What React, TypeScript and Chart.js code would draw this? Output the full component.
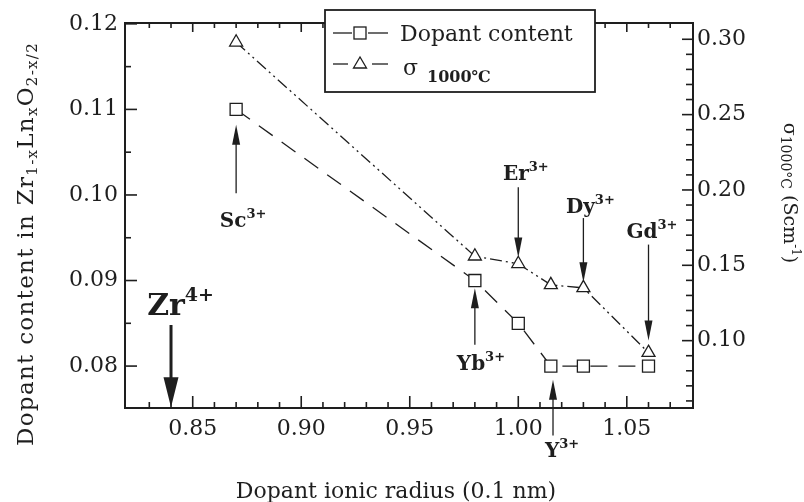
import React, { useEffect, useRef } from 'react';
import { Chart, registerables } from 'chart.js';

Chart.register(...registerables);

const INK = '#1e1e1e';
const FONT = "'DejaVu Serif', serif";

// ---- data ----
const IONIC_RADIUS = [0.87, 0.98, 1.0, 1.015, 1.03, 1.06];
const DOPANT_CONTENT = [0.11, 0.09, 0.085, 0.08, 0.08, 0.08];
const SIGMA_1000 = [0.298, 0.156, 0.151, 0.137, 0.135, 0.092];

// ---- axis ticks ----
const X_MAJOR = [0.85, 0.9, 0.95, 1.0, 1.05];
const X_MINOR = [0.83, 0.84, 0.86, 0.87, 0.88, 0.89, 0.91, 0.92, 0.93, 0.94, 0.96, 0.97, 0.98, 0.99, 1.01, 1.02, 1.03, 1.04, 1.06, 1.07];
const Y_LEFT_MAJOR = [0.08, 0.09, 0.1, 0.11, 0.12];
const Y_LEFT_MINOR = [0.085, 0.095, 0.105, 0.115];
const Y_RIGHT_MAJOR = [0.1, 0.15, 0.2, 0.25, 0.3];
const Y_RIGHT_MINOR = [0.06, 0.07, 0.08, 0.09, 0.11, 0.12, 0.13, 0.14, 0.16, 0.17, 0.18, 0.19, 0.21, 0.22, 0.23, 0.24, 0.26, 0.27, 0.28, 0.29];

// ---- ion annotations (x in radius units, y in left-axis units) ----
const ION_LABELS = ['Sc', 'Yb', 'Er', 'Y', 'Dy', 'Gd', 'Zr'];
const ION_CHARGES = ['3+', '3+', '3+', '3+', '3+', '3+', '4+'];
const ION_ARROW_X = [0.87, 0.98, 1.0, 1.016, 1.03, 1.06, 0.84];
const ION_ARROW_TAIL = [0.1002, 0.0825, 0.1009, 0.0719, 0.0973, 0.0942, 0.0848];
const ION_ARROW_TIP = [0.1082, 0.0891, 0.0927, 0.0784, 0.0898, 0.083, 0.0752];
const ION_LABEL_X = [0.8732, 0.9828, 1.0035, 1.0202, 1.0332, 1.0616, 0.8444];
const ION_LABEL_Y = [0.0963, 0.0795, 0.1018, 0.0694, 0.0979, 0.095, 0.086];

type Seg = { t: string; size: number; bold?: boolean; dy?: number };

function segFont(s: Seg) {
  return `${s.bold ? 'bold ' : ''}${s.size}px ${FONT}`;
}

function drawRich(ctx: CanvasRenderingContext2D, segs: Seg[], x: number, y: number, align: 'left' | 'center', spacing = 0) {
  const c: any = ctx;
  const prev = c.letterSpacing;
  c.letterSpacing = `${spacing}px`;
  let total = 0;
  segs.forEach((s) => {
    ctx.font = segFont(s);
    total += ctx.measureText(s.t).width;
  });
  let cx = align === 'center' ? x - total / 2 : x;
  ctx.textAlign = 'left';
  ctx.textBaseline = 'alphabetic';
  segs.forEach((s) => {
    ctx.font = segFont(s);
    ctx.fillText(s.t, cx, y + (s.dy || 0));
    cx += ctx.measureText(s.t).width;
  });
  c.letterSpacing = prev || '0px';
}

function drawArrow(ctx: CanvasRenderingContext2D, x: number, yTail: number, yTip: number, lw: number, headW: number, headL: number) {
  const dir = Math.sign(yTip - yTail);
  ctx.lineWidth = lw;
  ctx.beginPath();
  ctx.moveTo(x, yTail);
  ctx.lineTo(x, yTip - dir * headL * 0.7);
  ctx.stroke();
  ctx.beginPath();
  ctx.moveTo(x, yTip);
  ctx.lineTo(x - headW / 2, yTip - dir * headL);
  ctx.lineTo(x + headW / 2, yTip - dir * headL);
  ctx.closePath();
  ctx.fill();
}

const decorPlugin = {
  id: 'decor',
  beforeDraw(chart: any) {
    const ctx = chart.ctx as CanvasRenderingContext2D;
    ctx.save();
    ctx.fillStyle = '#fff';
    ctx.fillRect(0, 0, chart.width, chart.height);
    ctx.restore();
  },
  afterDraw(chart: any) {
    const ctx = chart.ctx as CanvasRenderingContext2D;
    const { left, right, top, bottom } = chart.chartArea;
    const xs = chart.scales.x;
    const yl = chart.scales.y;
    const yr = chart.scales.y2;
    ctx.save();
    ctx.strokeStyle = INK;
    ctx.fillStyle = INK;
    ctx.lineCap = 'butt';

    // frame
    ctx.lineWidth = 2;
    ctx.strokeRect(left, top, right - left, bottom - top);

    // ticks (inward)
    ctx.lineWidth = 1.6;
    const seg = (x1: number, y1: number, x2: number, y2: number) => {
      ctx.beginPath();
      ctx.moveTo(x1, y1);
      ctx.lineTo(x2, y2);
      ctx.stroke();
    };
    X_MAJOR.forEach((v) => {
      const p = xs.getPixelForValue(v);
      seg(p, bottom, p, bottom - 12);
      seg(p, top, p, top + 9);
    });
    X_MINOR.forEach((v) => {
      const p = xs.getPixelForValue(v);
      seg(p, bottom, p, bottom - 6);
      seg(p, top, p, top + 5);
    });
    Y_LEFT_MAJOR.forEach((v) => {
      const p = yl.getPixelForValue(v);
      seg(left, p, left + 12, p);
    });
    Y_LEFT_MINOR.forEach((v) => {
      const p = yl.getPixelForValue(v);
      seg(left, p, left + 6, p);
    });
    Y_RIGHT_MAJOR.forEach((v) => {
      const p = yr.getPixelForValue(v);
      seg(right, p, right - 11, p);
    });
    Y_RIGHT_MINOR.forEach((v) => {
      const p = yr.getPixelForValue(v);
      seg(right, p, right - 7, p);
    });

    // ion annotations
    ION_LABELS.forEach((lab, i) => {
      const big = lab === 'Zr';
      const ax = xs.getPixelForValue(ION_ARROW_X[i]);
      const t0 = yl.getPixelForValue(ION_ARROW_TAIL[i]);
      const t1 = yl.getPixelForValue(ION_ARROW_TIP[i]);
      if (big) drawArrow(ctx, ax, t0, t1, 3, 15, 30);
      else drawArrow(ctx, ax, t0, t1, 1.3, 8, 20);
      const lx = xs.getPixelForValue(ION_LABEL_X[i]);
      const ly = yl.getPixelForValue(ION_LABEL_Y[i]);
      const main = big ? 30 : 20;
      const sup = big ? 19 : 13;
      drawRich(ctx, [
        { t: lab, size: main, bold: true },
        { t: ION_CHARGES[i], size: sup, bold: true, dy: -main * 0.45 },
      ], lx, ly, 'center');
    });

    // legend box
    const bx = 325, by = 10, bw = 270, bh = 82;
    ctx.fillStyle = '#fff';
    ctx.fillRect(bx, by, bw, bh);
    ctx.lineWidth = 1.8;
    ctx.strokeRect(bx, by, bw, bh);
    ctx.fillStyle = INK;
    ctx.lineWidth = 1.3;
    // row 1: dopant content
    seg(333, 33, 352, 33);
    seg(368, 33, 388, 33);
    ctx.fillStyle = '#fff';
    ctx.fillRect(354, 27, 12, 12);
    ctx.strokeRect(354, 27, 12, 12);
    ctx.fillStyle = INK;
    drawRich(ctx, [{ t: 'Dopant content', size: 22 }], 400, 41, 'left');
    // row 2: sigma
    seg(333, 64, 348, 64);
    seg(372, 64, 388, 64);
    ctx.beginPath();
    ctx.moveTo(360, 57);
    ctx.lineTo(353.5, 68);
    ctx.lineTo(366.5, 68);
    ctx.closePath();
    ctx.fillStyle = '#fff';
    ctx.fill();
    ctx.stroke();
    ctx.fillStyle = INK;
    drawRich(ctx, [{ t: 'σ', size: 22 }], 403, 75, 'left');
    drawRich(ctx, [{ t: '1000℃', size: 16, bold: true }], 427, 82, 'left');

    // axis titles
    drawRich(ctx, [{ t: 'Dopant ionic radius (0.1 nm)', size: 22 }], 396, 498, 'center');

    ctx.save();
    ctx.translate(33, 244);
    ctx.rotate(-Math.PI / 2);
    drawRich(ctx, [
      { t: 'Dopant content in Zr', size: 23 },
      { t: '1-x', size: 15, dy: 4 },
      { t: 'Ln', size: 23 },
      { t: 'x', size: 15, dy: 4 },
      { t: 'O', size: 23 },
      { t: '2-x/2', size: 15, dy: 4 },
    ], 0, 0, 'center', 1.3);
    ctx.restore();

    ctx.save();
    ctx.translate(784, 193);
    ctx.rotate(Math.PI / 2);
    drawRich(ctx, [
      { t: 'σ', size: 19 },
      { t: '1000°C', size: 14, dy: 3 },
      { t: ' (Scm', size: 19 },
      { t: '-1', size: 12, dy: -8 },
      { t: ')', size: 19 },
    ], 0, 0, 'center');
    ctx.restore();

    ctx.restore();
  },
};

export default function App() {
  const ref = useRef<HTMLCanvasElement | null>(null);
  useEffect(() => {
    if (!ref.current) return;
    const tickFont = { family: FONT, size: 22 };
    const chart = new Chart(ref.current, {
      type: 'scatter',
      data: {
        datasets: [
          {
            label: 'Dopant content',
            yAxisID: 'y',
            data: IONIC_RADIUS.map((x, i) => ({ x, y: DOPANT_CONTENT[i] })),
            showLine: true,
            borderColor: INK,
            borderWidth: 1.3,
            borderDash: [17, 11],
            pointStyle: 'rect',
            pointRadius: 8.5,
            pointBackgroundColor: '#fff',
            pointBorderColor: INK,
            pointBorderWidth: 1.3,
          },
          {
            label: 'σ 1000℃',
            yAxisID: 'y2',
            data: IONIC_RADIUS.map((x, i) => ({ x, y: SIGMA_1000[i] })),
            showLine: true,
            borderColor: INK,
            borderWidth: 1.3,
            borderDash: [12, 4, 2, 4, 2, 4],
            pointStyle: 'triangle',
            pointRadius: 7.5,
            pointBackgroundColor: '#fff',
            pointBorderColor: INK,
            pointBorderWidth: 1.3,
          },
        ],
      },
      options: {
        responsive: false,
        animation: false,
        devicePixelRatio: 1,
        layout: { padding: { top: 23, left: 0, right: 0, bottom: 0 } },
        plugins: { legend: { display: false }, tooltip: { enabled: false } },
        scales: {
          x: {
            type: 'linear',
            position: 'bottom',
            min: 0.8188,
            max: 1.0805,
            grid: { display: false, drawTicks: false },
            border: { display: false },
            afterBuildTicks: (s: any) => {
              s.ticks = X_MAJOR.map((v) => ({ value: v }));
            },
            afterFit: (s: any) => {
              s.height = 94;
            },
            ticks: {
              font: tickFont,
              color: INK,
              padding: 8,
              maxRotation: 0,
              autoSkip: false,
              callback: (v: any) => Number(v).toFixed(2),
            },
          },
          y: {
            type: 'linear',
            position: 'left',
            min: 0.0751,
            max: 0.1201,
            grid: { display: false, drawTicks: false },
            border: { display: false },
            afterBuildTicks: (s: any) => {
              s.ticks = Y_LEFT_MAJOR.map((v) => ({ value: v }));
            },
            afterFit: (s: any) => {
              s.width = 125;
            },
            ticks: {
              font: tickFont,
              color: INK,
              padding: 7,
              autoSkip: false,
              callback: (v: any) => Number(v).toFixed(2),
            },
          },
          y2: {
            type: 'linear',
            position: 'right',
            min: 0.0553,
            max: 0.3108,
            grid: { display: false, drawTicks: false },
            border: { display: false },
            afterBuildTicks: (s: any) => {
              s.ticks = Y_RIGHT_MAJOR.map((v) => ({ value: v }));
            },
            afterFit: (s: any) => {
              s.width = 111;
            },
            ticks: {
              font: tickFont,
              color: INK,
              padding: 4,
              autoSkip: false,
              callback: (v: any) => Number(v).toFixed(2),
            },
          },
        },
      },
      plugins: [decorPlugin],
    } as any);
    return () => chart.destroy();
  }, []);
  return (
    <div style={{ position: 'fixed', left: 0, top: 0, width: 804, height: 502, background: '#fff' }}>
      <canvas ref={ref} width={804} height={502} />
    </div>
  );
}
